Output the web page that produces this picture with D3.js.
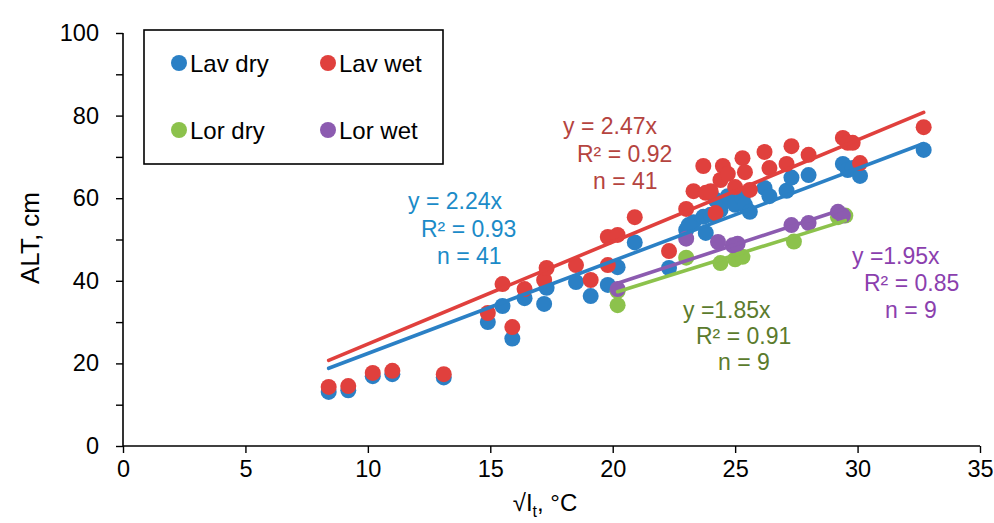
<!DOCTYPE html>
<html>
<head>
<meta charset="utf-8">
<script src="https://cdn.jsdelivr.net/npm/d3@7"></script>
<style>
  html, body { margin: 0; padding: 0; background: #fff; }
  svg { display: block; font-family: "Liberation Sans", Arial, sans-serif; }
</style>
</head>
<body>
<svg id="chart" width="994" height="523"></svg>
<script>
// ---------- data ----------
const seriesNames = ["Lav dry", "Lav wet", "Lor dry", "Lor wet"];
const seriesColors = ["#2b80c5", "#e0403d", "#8cc24c", "#8c5bb0"];
const textColors = ["#1b8bc8", "#b5443f", "#5b7b2d", "#8b3fae"];

const lavDryX = [8.4, 9.2, 10.2, 11.0, 13.1, 14.9, 15.5, 15.9, 16.4, 17.2, 17.3, 18.5, 19.1, 19.8, 20.2, 20.9, 22.3, 23.0, 23.3, 23.7, 23.8, 24.0, 24.2, 24.4, 24.5, 24.7, 25.0, 25.3, 25.4, 25.6, 26.2, 26.4, 27.1, 27.3, 28.0, 29.4, 29.6, 29.8, 30.1, 32.7, 23.1];
const lavDryY = [13.1, 13.5, 16.9, 17.4, 16.6, 30.0, 33.9, 26.0, 35.8, 34.4, 38.3, 39.7, 36.3, 39.0, 43.3, 49.3, 43.1, 52.3, 54.2, 55.5, 51.6, 56.0, 59.6, 57.1, 59.0, 60.5, 58.4, 60.0, 58.4, 56.7, 62.5, 60.5, 61.8, 65.0, 65.6, 68.3, 66.8, 67.3, 65.4, 71.7, 53.5];

const lavWetX = [8.4, 9.2, 10.2, 11.0, 13.1, 14.9, 15.5, 15.9, 16.4, 17.2, 17.3, 18.5, 19.1, 19.8, 19.8, 20.2, 20.9, 22.3, 23.0, 23.3, 23.7, 23.8, 24.0, 24.2, 24.4, 24.5, 24.7, 25.0, 25.3, 25.4, 25.6, 26.2, 26.4, 27.1, 27.3, 28.0, 29.4, 29.6, 29.8, 30.1, 32.7];
const lavWetY = [14.3, 14.5, 17.7, 18.2, 17.4, 32.2, 39.2, 28.8, 38.0, 40.2, 43.1, 43.8, 40.2, 43.8, 50.6, 51.1, 55.4, 47.2, 57.4, 61.7, 67.8, 61.3, 61.7, 56.4, 64.4, 67.8, 65.9, 62.7, 69.7, 66.3, 62.0, 71.2, 67.3, 68.3, 72.6, 70.5, 74.6, 73.4, 73.4, 68.5, 77.2];

const lorDryX = [20.2, 23.0, 24.4, 25.0, 25.3, 27.4, 29.2, 29.5, 20.2];
const lorDryY = [34.1, 45.6, 44.3, 45.2, 45.8, 49.5, 55.4, 55.8, 37.5];

const lorWetX = [20.2, 23.0, 24.3, 24.9, 25.1, 27.3, 28.0, 29.2, 29.4];
const lorWetY = [38.0, 50.2, 49.4, 48.6, 49.0, 53.5, 54.0, 56.7, 55.8];

const slopes = [2.24, 2.47, 1.85, 1.95];
const eqLabels = ["y = 2.24x", "y = 2.47x", "y =1.85x", "y =1.95x"];
const r2Labels = ["R² = 0.93", "R² = 0.92", "R² = 0.91", "R² = 0.85"];
const nLabels = ["n = 41", "n = 41", "n = 9", "n = 9"];

const xTicks = [0, 5, 10, 15, 20, 25, 30, 35];
const yTicks = [0, 10, 20, 30, 40, 50, 60, 70, 80, 90, 100];
const yLabelTicks = [0, 20, 40, 60, 80, 100];

const xTitle = "√I";
const xTitleSub = "t";
const xTitleEnd = ", °C";
const yTitle = "ALT, cm";

// ---------- layout ----------
const svg = d3.select("#chart");
const x = d3.scaleLinear().domain([0, 35]).range([123, 980]);
const y = d3.scaleLinear().domain([0, 100]).range([446, 33]);

const series = [
  { xs: lavDryX, ys: lavDryY },
  { xs: lavWetX, ys: lavWetY },
  { xs: lorDryX, ys: lorDryY },
  { xs: lorWetX, ys: lorWetY }
].map((s, i) => ({
  name: seriesNames[i],
  color: seriesColors[i],
  tcolor: textColors[i],
  slope: slopes[i],
  pts: s.xs.map((v, j) => ({ x: v, y: s.ys[j] }))
}));

// axes
const yAxis = d3.axisLeft(y).tickValues(yTicks).tickSize(7).tickPadding(17)
  .tickFormat(d => yLabelTicks.includes(d) ? d : "");
const gy = svg.append("g").attr("transform", `translate(${x(0)},0)`).call(yAxis);
const xAxis = d3.axisBottom(x).tickValues(xTicks).tickSize(7).tickPadding(7);
const gx = svg.append("g").attr("transform", `translate(0,${y(0)})`).call(xAxis);
[gx, gy].forEach(g => {
  g.select(".domain").attr("stroke", "#000").attr("stroke-width", 1.6);
  g.selectAll(".tick line").attr("stroke", "#000").attr("stroke-width", 1.4);
  g.selectAll(".tick text").attr("fill", "#000").style("font-size", "23.5px")
    .style("font-family", "'Liberation Sans', Arial, sans-serif");
});
gy.select(".domain").attr("d", `M0,${y(0)}V${y(100)}`);
gx.select(".domain").attr("d", `M${x(0)},0H${x(35)}`);

// points
const pointLayer = svg.append("g");
series.forEach(s => {
  pointLayer.append("g").selectAll("circle").data(s.pts).join("circle")
    .attr("cx", d => x(d.x)).attr("cy", d => y(d.y)).attr("r", 8)
    .attr("fill", s.color);
});

// trendlines (through origin) over data range
const lineLayer = svg.append("g");
series.forEach(s => {
  const [x0, x1] = d3.extent(s.pts, d => d.x);
  lineLayer.append("line")
    .attr("x1", x(x0)).attr("y1", y(s.slope * x0))
    .attr("x2", x(x1)).attr("y2", y(s.slope * x1))
    .attr("stroke", s.color).attr("stroke-width", 3.6).attr("stroke-linecap", "round");
});

// trendline labels
const labelPos = [
  { xs: [408, 421, 437], ys: [209, 237, 264] },
  { xs: [563, 577, 593], ys: [134, 162, 189] },
  { xs: [683, 696, 718], ys: [318, 344, 370] },
  { xs: [852, 864, 885], ys: [264, 291, 318] }
];
series.forEach((s, i) => {
  const g = svg.append("g").attr("fill", s.tcolor).style("font-size", "23px");
  [eqLabels[i], r2Labels[i], nLabels[i]].forEach((t, k) => {
    g.append("text").attr("x", labelPos[i].xs[k]).attr("y", labelPos[i].ys[k]).text(t);
  });
});

// legend
const lg = svg.append("g");
lg.append("rect").attr("x", 144).attr("y", 30).attr("width", 299).attr("height", 134)
  .attr("fill", "#fff").attr("stroke", "#000").attr("stroke-width", 1.6);
const legPos = [[179, 63], [328, 63], [179, 130], [328, 130]];
series.forEach((s, i) => {
  lg.append("circle").attr("cx", legPos[i][0]).attr("cy", legPos[i][1]).attr("r", 8).attr("fill", s.color);
  lg.append("text").attr("x", legPos[i][0] + 11).attr("y", legPos[i][1] + 8.5)
    .style("font-size", "24px").attr("fill", "#000").text(s.name);
});

// axis titles
svg.append("text").attr("transform", "translate(39,238) rotate(-90)")
  .attr("text-anchor", "middle").style("font-size", "26px").attr("fill", "#000").text(yTitle);
const xt = svg.append("text").attr("x", 545).attr("y", 511).attr("text-anchor", "middle")
  .style("font-size", "24px").attr("fill", "#000");
xt.append("tspan").text(xTitle);
xt.append("tspan").attr("dy", 6).style("font-size", "16px").text(xTitleSub);
xt.append("tspan").attr("dy", -6).text(xTitleEnd);
</script>
</body>
</html>
